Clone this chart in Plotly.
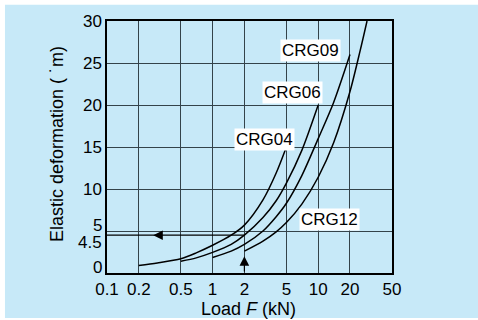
import numpy as np
import plotly.graph_objects as go

# Elastic deformation vs. load for the CRG cross-roller guide sizes
load_crg04 = [0.2, 0.3, 0.5, 0.7, 1, 1.5, 2, 3, 4, 5]
defl_crg04 = [0.9, 1.2, 1.7, 2.4, 3.3, 4.5, 5.7, 8.7, 11.9, 15.0]

load_crg06 = [0.5, 0.7, 1, 1.5, 2, 3, 4, 5, 7, 10]
defl_crg06 = [1.4, 1.8, 2.45, 3.4, 4.5, 6.6, 8.6, 10.7, 14.6, 20.0]

load_crg09 = [1, 1.5, 2, 3, 4, 5, 7, 10, 14, 20]
defl_crg09 = [1.85, 2.6, 3.4, 5.0, 6.7, 8.3, 11.6, 16.0, 20.3, 26.0]

load_crg12 = [2, 3, 4, 5, 7, 10, 14, 20, 25, 29]
defl_crg12 = [2.6, 3.8, 4.9, 6.0, 8.2, 11.4, 15.5, 21.6, 26.5, 30.0]

series_names = ["CRG04", "CRG06", "CRG09", "CRG12"]

# worked example: 2 kN on CRG06 -> 4.5 um
example_load = 2
example_defl = 4.5

x_ticks = [0.1, 0.2, 0.5, 1, 2, 5, 10, 20, 50]
x_tick_text = ["0.1", "0.2", "0.5", "1", "2", "5", "10", "20", "50"]
y_ticks = [0, 5, 10, 15, 20, 25, 30]
y_tick_text = ["", "", "10", "15", "20", "25", "30"]

FONT = "Liberation Sans, Arial, sans-serif"
BG = "#c7e9f8"
GRID = "#34434a"

fig = go.Figure()

for xs, ys in [(load_crg04, defl_crg04), (load_crg06, defl_crg06),
               (load_crg09, defl_crg09), (load_crg12, defl_crg12)]:
    fig.add_trace(go.Scatter(x=xs, y=ys, mode="lines",
                             line=dict(color="black", width=1.5, shape="spline", smoothing=0.8),
                             hoverinfo="skip", showlegend=False))

# horizontal read-off line at the example deflection
fig.add_trace(go.Scatter(x=[x_ticks[0], example_load], y=[example_defl, example_defl],
                         mode="lines", line=dict(color="black", width=1.2),
                         hoverinfo="skip", showlegend=False))

# light blue panel behind the whole chart
fig.add_shape(type="rect", xref="paper", yref="paper",
              x0=-0.358, x1=1.31, y0=-0.179, y1=1.064,
              fillcolor=BG, line=dict(width=0), layer="below")

annotations = []

# arrowheads on the read-off lines
annotations.append(dict(x=np.log10(0.274), y=example_defl, xref="x", yref="y",
                        ax=np.log10(0.34), ay=example_defl, axref="x", ayref="y",
                        showarrow=True, arrowhead=2, arrowsize=1.6, arrowwidth=1.2,
                        arrowcolor="black", text=""))
annotations.append(dict(x=np.log10(example_load), y=2.0, xref="x", yref="y",
                        ax=np.log10(example_load), ay=0, axref="x", ayref="y",
                        showarrow=True, arrowhead=2, arrowsize=1.6, arrowwidth=1.2,
                        arrowcolor="black", text=""))

# curve labels (x given as log10 for the log axis)
label_pos = {"CRG04": (3.10, 15.9), "CRG06": (5.65, 21.5),
             "CRG09": (8.51, 26.5), "CRG12": (12.9, 6.4)}
for name in series_names:
    lx, ly = label_pos[name]
    annotations.append(dict(x=np.log10(lx), y=ly, xref="x", yref="y", text=name,
                            showarrow=False, bgcolor="white", borderpad=1,
                            font=dict(family=FONT, size=17, color="black")))

# low y tick labels, nudged apart so they do not collide
for val, txt, shift in [(0, "0", 6), (5, "5", 6), (4.5, "4.5", -7)]:
    annotations.append(dict(x=0, y=val, xref="paper", yref="y", text=txt,
                            xanchor="right", yanchor="middle", xshift=-3, yshift=shift,
                            showarrow=False, font=dict(family=FONT, size=17, color="black")))

# axis titles
annotations.append(dict(x=0.4965, y=-0.143, xref="paper", yref="paper",
                        text="Load <i>F</i> (kN)", showarrow=False,
                        xanchor="center", yanchor="middle",
                        font=dict(family=FONT, size=18, color="black")))
annotations.append(dict(x=-0.1754, y=0.512, xref="paper", yref="paper",
                        text="Elastic deformation ( \u02d9m)", showarrow=False,
                        textangle=-90, xanchor="center", yanchor="middle",
                        font=dict(family=FONT, size=18, color="black")))

fig.update_layout(
    width=478, height=320,
    margin=dict(l=107, r=86, t=21, b=47, autoexpand=False),
    paper_bgcolor="white",
    plot_bgcolor="rgba(0,0,0,0)",
    font=dict(family=FONT, size=17, color="black"),
    annotations=annotations,
    xaxis=dict(type="log", range=[np.log10(0.1), np.log10(50)],
               tickvals=x_ticks, ticktext=x_tick_text, ticks="",
               showgrid=True, gridcolor=GRID, gridwidth=1.2,
               showline=True, linecolor="black", linewidth=1.5, mirror=True,
               zeroline=False, tickfont=dict(family=FONT, size=17, color="black")),
    yaxis=dict(range=[0, 30], tickvals=y_ticks, ticktext=y_tick_text, ticks="",
               showgrid=True, gridcolor=GRID, gridwidth=1.2,
               showline=True, linecolor="black", linewidth=1.5, mirror=True,
               zeroline=False, tickfont=dict(family=FONT, size=17, color="black")),
)

fig.write_html("out.html")
